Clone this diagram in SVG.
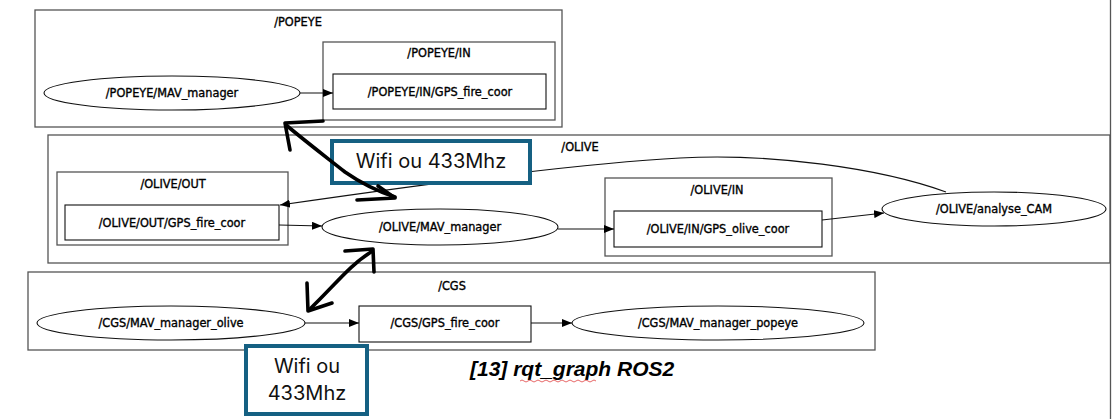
<svg xmlns="http://www.w3.org/2000/svg" width="1113" height="419" viewBox="0 0 1113 419">
<defs>
<style>
.cl{fill:none;stroke:#555;stroke-width:1.3}
.nd{fill:#fff;stroke:#111;stroke-width:1.1}
.t{font-family:"DejaVu Sans Condensed","DejaVu Sans",sans-serif;font-size:12.6px;fill:#000;stroke:#000;stroke-width:0.35;text-anchor:middle}
.e{fill:none;stroke:#111;stroke-width:1.1}
.hand{fill:none;stroke:#000;stroke-width:3.6;stroke-linecap:round;stroke-linejoin:round}
.ann{fill:#fff;stroke:#156082;stroke-width:4}
.at{font-family:"Inter","Liberation Sans",sans-serif;font-size:20px;fill:#111;text-anchor:middle}
</style>
<marker id="ah" markerWidth="10" markerHeight="8" refX="10" refY="4" orient="auto" markerUnits="userSpaceOnUse">
<path d="M0,0 L10,4 L0,8 Z" fill="#000"/>
</marker>
</defs>
<rect width="1113" height="419" fill="#fff"/>
<line x1="1110.5" y1="0" x2="1110.5" y2="419" stroke="#555" stroke-width="1.3"/>

<g id="cluster_popeye">
<rect class="cl" x="35" y="10" width="527" height="117"/>
<text class="t" x="298" y="26">/POPEYE</text>
</g>
<g id="cluster_popeye_in">
<rect class="cl" x="323" y="42" width="232" height="78"/>
<text class="t" x="439" y="57">/POPEYE/IN</text>
</g>
<g id="popeye_mav_manager">
<ellipse class="nd" cx="172" cy="93" rx="128" ry="17"/>
<text class="t" x="172" y="97">/POPEYE/MAV_manager</text>
</g>
<g id="popeye_in_gps_fire_coor">
<rect class="nd" x="333" y="74" width="213" height="35"/>
<text class="t" x="440" y="96">/POPEYE/IN/GPS_fire_coor</text>
</g>

<g id="cluster_olive">
<rect class="cl" x="48" y="135" width="1062" height="128"/>
<text class="t" x="580" y="151">/OLIVE</text>
</g>
<g id="cluster_olive_out">
<rect class="cl" x="57" y="172" width="231" height="73"/>
<text class="t" x="173" y="188">/OLIVE/OUT</text>
</g>
<g id="olive_out_gps_fire_coor">
<rect class="nd" x="65" y="205" width="214" height="35"/>
<text class="t" x="172" y="227">/OLIVE/OUT/GPS_fire_coor</text>
</g>
<g id="olive_mav_manager">
<ellipse class="nd" cx="440" cy="227" rx="118" ry="18"/>
<text class="t" x="440" y="231">/OLIVE/MAV_manager</text>
</g>
<g id="cluster_olive_in">
<rect class="cl" x="605" y="178" width="227" height="78"/>
<text class="t" x="717" y="194">/OLIVE/IN</text>
</g>
<g id="olive_in_gps_olive_coor">
<rect class="nd" x="614" y="211" width="208" height="36"/>
<text class="t" x="718" y="233">/OLIVE/IN/GPS_olive_coor</text>
</g>
<g id="olive_analyse_cam">
<ellipse class="nd" cx="994" cy="209" rx="112" ry="17"/>
<text class="t" x="994" y="213">/OLIVE/analyse_CAM</text>
</g>

<g id="cluster_cgs">
<rect class="cl" x="28" y="272" width="847" height="78"/>
<text class="t" x="452" y="290">/CGS</text>
</g>
<g id="cgs_mav_manager_olive">
<ellipse class="nd" cx="171" cy="323" rx="134" ry="17"/>
<text class="t" x="171" y="327">/CGS/MAV_manager_olive</text>
</g>
<g id="cgs_gps_fire_coor">
<rect class="nd" x="359" y="306" width="172" height="36"/>
<text class="t" x="445" y="327">/CGS/GPS_fire_coor</text>
</g>
<g id="cgs_mav_manager_popeye">
<ellipse class="nd" cx="718" cy="323" rx="146" ry="17"/>
<text class="t" x="718" y="327">/CGS/MAV_manager_popeye</text>
</g>

<g id="connectors">
<line class="e" x1="300" y1="93" x2="333" y2="93" marker-end="url(#ah)"/>
<line class="e" x1="279" y1="225" x2="322" y2="226" marker-end="url(#ah)"/>
<line class="e" x1="558" y1="229" x2="614" y2="229" marker-end="url(#ah)"/>
<line class="e" x1="822" y1="220" x2="884" y2="213" marker-end="url(#ah)"/>
<path class="e" d="M946,192 C880,168 770,153 680,158 C600,162 480,176 280,205" marker-end="url(#ah)"/>
<line class="e" x1="305" y1="323" x2="359" y2="323" marker-end="url(#ah)"/>
<line class="e" x1="531" y1="323" x2="572" y2="323" marker-end="url(#ah)"/>
</g>

<g id="annotation_wifi_1">
<rect class="ann" x="332" y="141" width="198" height="42"/>
<text class="at" x="431" y="168">Wifi ou 433Mhz</text>
</g>
<g id="annotation_wifi_2">
<rect class="ann" x="246" y="346" width="121" height="68"/>
<text class="at" x="307" y="373">Wifi ou</text>
<text class="at" x="307" y="400">433Mhz</text>
</g>

<g id="hand_arrows">
<path class="hand" d="M290,150 L285,123 L323,121"/>
<path class="hand" d="M286,125 C310,145 330,160 345,172 C365,186 380,192 395,197"/>
<path class="hand" d="M357,200 L395,198 L378,186"/>
<path class="hand" d="M345,251 L373,249 L374,272"/>
<path class="hand" d="M371,252 C350,265 335,285 309,310"/>
<path class="hand" d="M307,283 L308,311 L332,303"/>
</g>

<g id="caption">
<text x="470" y="376" font-family="Liberation Sans,Arial,sans-serif" font-size="21" font-weight="bold" font-style="italic" fill="#000">[13] rqt_graph ROS2</text>
<path d="M520,381 q2,-2 4,0 t4,0 t4,0 t4,0 t4,0 t4,0 t4,0 t4,0 t4,0 t4,0 t4,0 t4,0 t4,0 t4,0 t4,0 t4,0 t4,0 t4,0 t4,0" fill="none" stroke="#e04040" stroke-width="0.8"/>
</g>
</svg>
